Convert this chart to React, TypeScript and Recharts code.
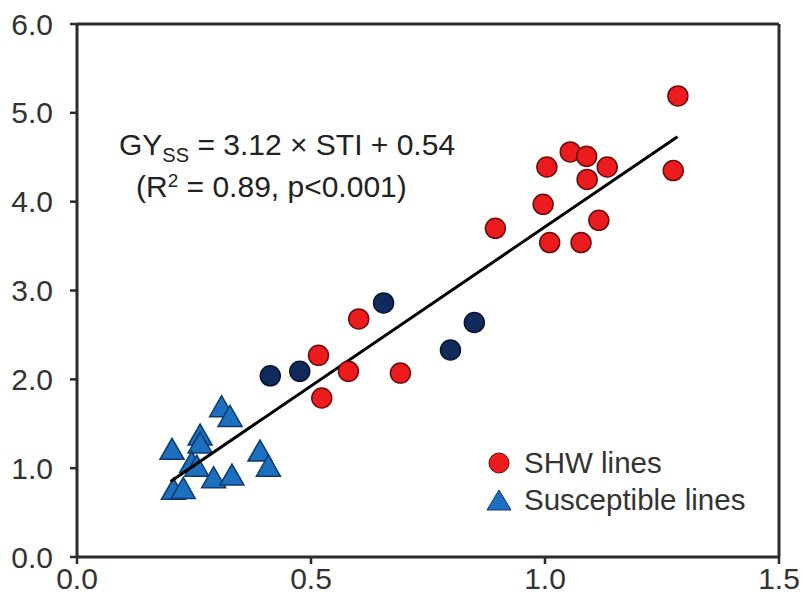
import {
  ScatterChart, Scatter, XAxis, YAxis, ReferenceLine,
} from "recharts";

// STI (x) vs GYss (y)
const shwX = [1.284, 1.274, 1.004, 1.054, 1.089, 1.133, 1.09, 0.996, 1.115, 1.01, 1.077, 0.894, 0.602, 0.516, 0.58, 0.691, 0.523];
const shwY = [5.19, 4.35, 4.39, 4.56, 4.51, 4.39, 4.25, 3.97, 3.79, 3.54, 3.54, 3.7, 2.68, 2.27, 2.09, 2.07, 1.79];

const darkX = [0.413, 0.476, 0.655, 0.849, 0.798];
const darkY = [2.04, 2.09, 2.86, 2.64, 2.33];

const suscX = [0.309, 0.327, 0.263, 0.263, 0.203, 0.245, 0.256, 0.391, 0.409, 0.292, 0.331, 0.206, 0.227];
const suscY = [1.67, 1.56, 1.35, 1.26, 1.19, 1.04, 1.0, 1.17, 1.0, 0.87, 0.9, 0.74, 0.75];

const fitX = [0.2, 1.283];
const fitY = [0.85, 4.73];

const xTicks = [0, 0.5, 1.0, 1.5];
const yTicks = [0, 1, 2, 3, 4, 5, 6];

const zip = (xs: number[], ys: number[]) => xs.map((x, i) => ({ x, y: ys[i] }));

const FONT = "'Liberation Sans', Arial, sans-serif";
const AXIS = "#2b2b2b";

const RedDot = (p: any) => (
  <circle cx={p.cx} cy={p.cy} r={10} fill="#ec1b1e" stroke="#6e0b0b" strokeWidth={1.5} />
);
const NavyDot = (p: any) => (
  <circle cx={p.cx} cy={p.cy} r={10} fill="#112a5c" stroke="#06142e" strokeWidth={1.5} />
);
const Tri = (p: any) => (
  <polygon
    points={`${p.cx},${p.cy - 13} ${p.cx - 12},${p.cy + 8} ${p.cx + 12},${p.cy + 8}`}
    fill="#1d6fc0"
    stroke="#0c3a6c"
    strokeWidth={1.5}
  />
);

export default function App() {
  const tick = { fontSize: 30, fill: "#333", fontFamily: FONT };
  return (
    <div style={{ position: "absolute", left: 0, top: 0, width: 803, height: 605, background: "#fff" }}>
      <ScatterChart width={803} height={605} margin={{ top: 24, right: 24, bottom: 0, left: 0 }}>
        <XAxis
          type="number"
          dataKey="x"
          domain={[0, 1.5]}
          ticks={xTicks}
          tickFormatter={(v: number) => v.toFixed(1)}
          tick={tick}
          tickLine={{ stroke: AXIS, strokeWidth: 2.5 }}
          axisLine={{ stroke: AXIS, strokeWidth: 3 }}
          tickSize={7}
          tickMargin={4}
          height={48}
        />
        <YAxis
          type="number"
          dataKey="y"
          domain={[0, 6]}
          ticks={yTicks}
          tickFormatter={(v: number) => v.toFixed(1)}
          tick={tick}
          tickLine={{ stroke: AXIS, strokeWidth: 2.5 }}
          axisLine={{ stroke: AXIS, strokeWidth: 3 }}
          tickSize={7}
          tickMargin={17}
          width={77}
        />
        <ReferenceLine y={6} stroke={AXIS} strokeWidth={3} />
        <ReferenceLine x={1.5} stroke={AXIS} strokeWidth={3} />
        <Scatter name="Susceptible lines" data={zip(suscX, suscY)} shape={Tri} isAnimationActive={false} />
        <Scatter
          name="fit"
          data={zip(fitX, fitY)}
          line={{ stroke: "#000", strokeWidth: 3 }}
          shape={() => <g />}
          legendType="none"
          isAnimationActive={false}
        />
        <Scatter name="Other" data={zip(darkX, darkY)} shape={NavyDot} legendType="none" isAnimationActive={false} />
        <Scatter name="SHW lines" data={zip(shwX, shwY)} shape={RedDot} isAnimationActive={false} />
      </ScatterChart>

      {/* regression equation */}
      <div
        style={{
          position: "absolute", left: 119, top: 124, fontFamily: FONT, fontSize: 30,
          color: "#222", lineHeight: "42px", whiteSpace: "nowrap",
        }}
      >
        <div>
          GY<sub style={{ fontSize: 20, verticalAlign: "-7px", lineHeight: 0 }}>SS</sub> = 3.12 × STI + 0.54
        </div>
        <div style={{ paddingLeft: 17 }}>
          (R<sup style={{ fontSize: 19, verticalAlign: "10px", lineHeight: 0 }}>2</sup> = 0.89, p&lt;0.001)
        </div>
      </div>

      {/* legend */}
      <div style={{ position: "absolute", left: 486, top: 444, fontFamily: FONT, fontSize: 29.5, color: "#333", whiteSpace: "nowrap" }}>
        <div style={{ display: "flex", alignItems: "center", height: 37 }}>
          <svg width={26} height={26} style={{ marginRight: 12 }}>
            <circle cx={13} cy={13} r={10} fill="#ec1b1e" stroke="#6e0b0b" strokeWidth={1} />
          </svg>
          SHW lines
        </div>
        <div style={{ display: "flex", alignItems: "center", height: 37 }}>
          <svg width={26} height={26} style={{ marginRight: 12 }}>
            <polygon points="13,3 1,23 25,23" fill="#1d6fc0" stroke="#0c3a6c" strokeWidth={1} />
          </svg>
          Susceptible lines
        </div>
      </div>
    </div>
  );
}
